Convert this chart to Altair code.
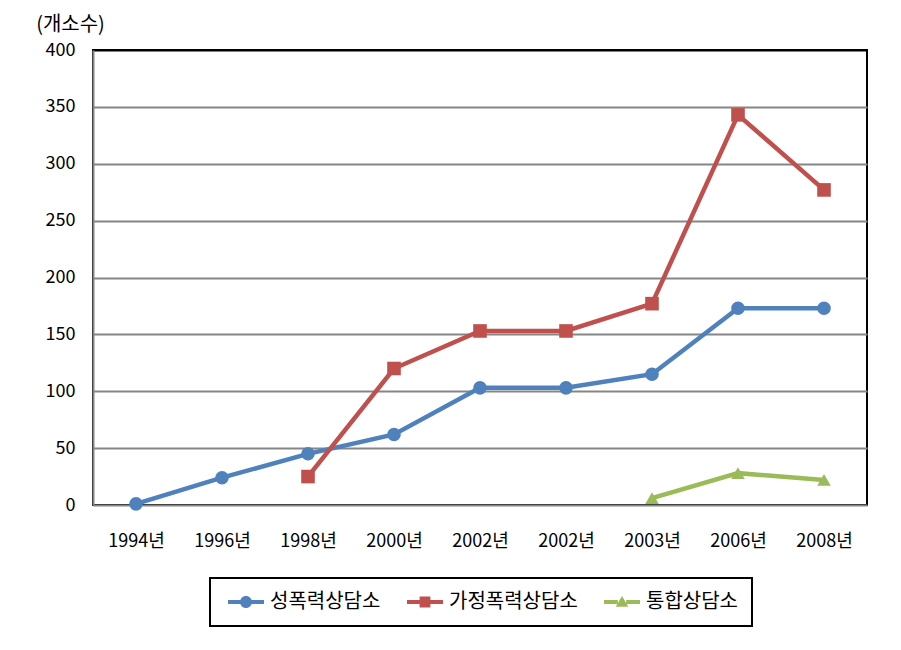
import json
import altair as alt
import pandas as pd

labels = ["1994년", "1996년", "1998년", "2000년", "2002년", "2002년", "2003년", "2006년", "2008년"]
series = ["성폭력상담소", "가정폭력상담소", "통합상담소"]
sexual = [1, 24, 45, 62, 103, 103, 115, 173, 173]
domestic = [None, None, 25, 120, 153, 153, 177, 343, 277]
integrated = [None, None, None, None, None, None, 6, 28, 22]
colors = ["#4F81BD", "#C0504D", "#9BBB59"]
y_ticks = [0, 50, 100, 150, 200, 250, 300, 350, 400]

rows = []
for name, vals in zip(series, [sexual, domestic, integrated]):
    for i, v in enumerate(vals):
        if v is not None:
            rows.append({"idx": i, "series": name, "value": v})
df = pd.DataFrame(rows)
legend_df = pd.DataFrame({"idx": [0, 0, 0], "series": series, "value": [-100, -100, -100]})

label_expr = json.dumps(labels, ensure_ascii=False) + "[datum.value]"

x_enc = alt.X("idx:O", scale=alt.Scale(type="point", padding=0.5),
              axis=alt.Axis(title=None, labelExpr=label_expr, labelAngle=0, domain=False,
                            ticks=False, grid=False, labelPadding=27, labelFontSize=18))
y_enc = alt.Y("value:Q", scale=alt.Scale(domain=[0, 400], nice=False),
              axis=alt.Axis(values=y_ticks, title="(개소수)", titleAngle=0, titleAlign="center",
                            titleX=-23, titleY=-26, titleBaseline="middle", titleFontSize=20,
                            titleFontWeight="normal", ticks=False, labelPadding=18, labelFontSize=18,
                            domainColor="#868686", domainWidth=2,
                            gridColor=alt.condition("datum.value == 400", alt.value("black"), alt.value("#868686")),
                            gridWidth=2))

color_scale = alt.Scale(domain=series, range=colors)

line = alt.Chart(df).mark_line(strokeWidth=4.5).encode(
    x=x_enc, y=y_enc,
    color=alt.Color("series:N", scale=color_scale, legend=None),
)
points = alt.Chart(df).mark_point(filled=True, opacity=1, size=185).encode(
    x=x_enc, y=y_enc,
    color=alt.Color("series:N", scale=color_scale, legend=None),
    shape=alt.Shape("series:N", scale=alt.Scale(domain=series, range=["circle", "square", "triangle-up"]), legend=None),
)

seg = "M-3,-0.32H-0.7V0.32H-3Z M0.7,-0.32H3V0.32H0.7Z "
legend_paths = [
    seg + "M-1,0 A1,1 0 1,1 1,0 A1,1 0 1,1 -1,0 Z",
    seg + "M-0.9,-0.9H0.9V0.9H-0.9Z",
    seg + "M0,-1L1.05,0.8H-1.05Z",
]
leg = alt.Legend(title=None, orient="none", legendX=117, legendY=528, direction="horizontal",
                 columns=3, symbolSize=144, symbolOffset=12, labelOffset=14, symbolStrokeWidth=0,
                 labelFontSize=20, columnPadding=22, padding=14, strokeColor="black")
legend_layer = alt.Chart(legend_df).mark_point(filled=True, opacity=1, clip=True, size=144).encode(
    x=x_enc, y=y_enc,
    color=alt.Color("series:N", scale=color_scale, legend=leg),
    shape=alt.Shape("series:N", scale=alt.Scale(domain=series, range=legend_paths), legend=leg),
)

chart = alt.layer(line, points, legend_layer).resolve_scale(
    color="independent", shape="independent"
).properties(
    width=774, height=455,
    autosize=alt.AutoSizeParams(type="none"),
    padding={"left": 93, "top": 50, "right": 34, "bottom": 145},
).configure(
    font="Noto Sans CJK KR",
).configure_view(
    stroke="black", strokeWidth=2,
).configure_axis(
    labelColor="black", titleColor="black", labelFont="Noto Sans CJK KR",
).configure_legend(
    strokeWidth=2, labelColor="black",
)

chart.save("out.html", embed_options={"renderer": "svg", "actions": False})
